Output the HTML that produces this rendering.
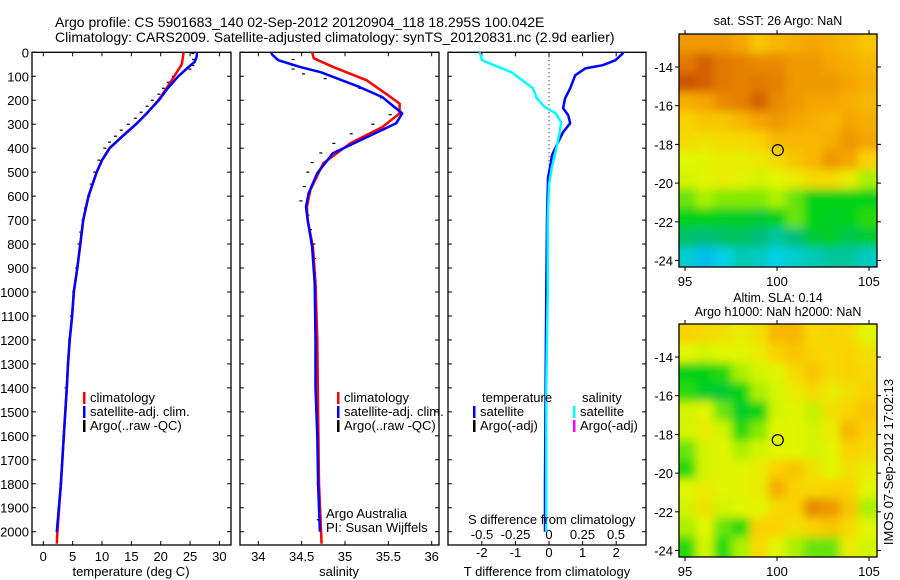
<!DOCTYPE html>
<html><head><meta charset="utf-8"><style>
body{margin:0;background:#fff;}
svg{display:block;font-family:"Liberation Sans",sans-serif;}
text{fill:#000;}
</style></head><body>
<svg id="fig" width="900" height="580" viewBox="0 0 900 580">
<defs>
<filter id="blur" x="0" y="0" width="1" height="1"><feGaussianBlur stdDeviation="4.5"/></filter>
<clipPath id="clip1"><rect x="679" y="34" width="198" height="233"/></clipPath>
<clipPath id="clip2"><rect x="679" y="324" width="198" height="233"/></clipPath>
</defs>
<text x="55" y="27" font-size="14">Argo profile: CS 5901683_140 02-Sep-2012 20120904_118 18.295S 100.042E</text>
<text x="55" y="42" font-size="14">Climatology: CARS2009. Satellite-adjusted climatology: synTS_20120831.nc (2.9d earlier)</text>
<g id="g1"></g>
<g id="g2"></g>
<g id="g3"></g>
<g id="m1"></g>
<g id="m2"></g>
<text transform="translate(893,462) rotate(-90)" font-size="13" text-anchor="middle">IMOS 07-Sep-2012 17:02:13</text>
</svg>
<script>
// ---- data ----
const tClimDepth=[0,50,100,150,200,250,300,350,400,450,500,600,700,800,900,1000,1100,1200,1300,1400,1600,1800,2000,2050];
const tClim=[23.9,23.6,22.3,21,19.6,17.8,15.8,13.5,11.3,10,9.1,7.7,6.8,6.3,5.8,5.2,4.9,4.5,4.2,4.0,3.5,3.0,2.4,2.3];
const tSatDepth=[0,20,40,60,100,150,200,250,300,350,400,450,500,600,700,800,900,1000,1100,1200,1300,1400,1600,1800,2000];
const tSat=[26.2,26.1,25.8,24.8,23,21.2,19.7,17.8,15.8,13.5,11.3,10,9.1,7.7,6.8,6.3,5.8,5.2,4.9,4.5,4.2,4.0,3.5,3.0,2.3];
const tArgoDepth=[5,30,55,70,100,125,150,175,200,225,250,275,300,325,350,375,400,450,500,550,600,650,700,750,800,900,1000,1100,1200,1400,1600,1800,1900,2000];
const tArgo=[25.9,26.0,25.9,25.4,22.6,21.7,20.9,20.1,19.0,18.1,17.1,16.1,14.9,13.7,12.7,11.7,10.9,9.9,9.2,8.6,8.2,7.6,7.2,6.8,6.5,6.1,5.6,5.2,4.9,4.3,3.9,3.4,3.1,2.8];
const sClimDepth=[0,25,62,117,175,214,255,312,380,463,575,645,700,812,963,1200,1500,1800,2050];
const sClim=[34.62,34.64,34.87,35.25,35.48,35.63,35.63,35.43,35.06,34.75,34.6,34.56,34.57,34.63,34.66,34.68,34.69,34.7,34.73];
const sSatDepth=[0,10,33,62,83,145,187,255,296,354,421,504,588,645,700,812,963,1200,1400,1600,1800,2000];
const sSat=[34.15,34.16,34.23,34.49,34.72,35.17,35.43,35.66,35.59,35.25,34.86,34.68,34.58,34.55,34.57,34.62,34.65,34.66,34.66,34.68,34.69,34.71];
const sArgoDepth=[0,30,55,70,90,110,150,190,230,260,300,340,380,420,460,500,560,620,680,740,800,860,920,980,1050,1150,1250,1400,1600,1800,1950];
const sArgo=[34.43,34.43,34.43,34.43,34.55,34.8,35.2,35.45,35.6,35.55,35.35,35.1,34.9,34.75,34.65,34.6,34.56,34.52,34.6,34.63,34.67,34.68,34.68,34.69,34.69,34.69,34.7,34.7,34.71,34.72,34.72];
const dDepth=[0,4,33,54,67,96,150,192,233,262,296,333,375,429,458,525,700,1000,1400,1800,2000];
const tDiff=[2.2,2.2,1.98,1.6,1.08,0.78,0.63,0.48,0.42,0.57,0.63,0.42,0.27,0.09,0.06,-0.03,-0.06,-0.08,-0.1,-0.12,-0.12];
const sDiffDepth=[0,12,33,54,83,125,150,192,229,254,292,333,388,483,554,700,1000,1400,1800,2000];
const sDiff=[-0.52,-0.51,-0.5,-0.41,-0.28,-0.18,-0.12,-0.09,-0.03,0.05,0.09,0.08,0.06,0.02,0,-0.01,-0.01,-0.02,-0.02,-0.02];
const depthTicks=[0,100,200,300,400,500,600,700,800,900,1000,1100,1200,1300,1400,1500,1600,1700,1800,1900,2000];
const tTicks=[0,5,10,15,20,25,30];
const sTicks=[34,34.5,35,35.5,36];
const tdTicks=[-2,-1,0,1,2];
const sdTicks=[-0.5,-0.25,0,0.25,0.5];
const sdTickLabels=["-0.5","-0.25","0","0.25","0.5"];
const mapLonTicks=[95,100,105];
const mapLatTicks=[-14,-16,-18,-20,-22,-24];
const sstGrid=[
[0.85,0.85,0.85,0.82,0.75,0.78,0.8,0.82,0.8,0.78,0.75],
[0.92,0.95,0.92,0.9,0.88,0.88,0.85,0.85,0.82,0.8,0.78],
[0.97,0.95,0.92,0.9,0.92,0.9,0.85,0.85,0.85,0.82,0.8],
[0.8,0.82,0.88,0.9,0.95,0.88,0.85,0.82,0.82,0.8,0.78],
[0.72,0.75,0.75,0.78,0.82,0.85,0.82,0.8,0.78,0.82,0.8],
[0.7,0.68,0.7,0.7,0.72,0.78,0.78,0.78,0.8,0.85,0.82],
[0.62,0.62,0.65,0.64,0.66,0.7,0.75,0.78,0.85,0.82,0.72],
[0.6,0.62,0.65,0.63,0.6,0.62,0.65,0.7,0.7,0.65,0.55],
[0.5,0.55,0.52,0.52,0.52,0.55,0.5,0.42,0.42,0.42,0.42],
[0.42,0.42,0.4,0.4,0.38,0.42,0.5,0.42,0.4,0.42,0.45],
[0.32,0.3,0.32,0.33,0.3,0.25,0.3,0.38,0.4,0.35,0.38],
[0.18,0.12,0.15,0.22,0.2,0.15,0.18,0.22,0.25,0.25,0.2]];
const slaGrid=[
[0.72,0.7,0.68,0.65,0.68,0.78,0.78,0.7,0.72,0.7,0.62],
[0.62,0.6,0.62,0.62,0.65,0.72,0.75,0.72,0.7,0.72,0.68],
[0.42,0.42,0.45,0.55,0.6,0.62,0.7,0.75,0.7,0.72,0.7],
[0.45,0.4,0.38,0.42,0.55,0.6,0.65,0.7,0.65,0.68,0.72],
[0.6,0.62,0.5,0.4,0.42,0.6,0.62,0.58,0.68,0.72,0.75],
[0.6,0.65,0.6,0.45,0.52,0.62,0.62,0.6,0.65,0.78,0.72],
[0.5,0.6,0.62,0.55,0.6,0.62,0.62,0.6,0.62,0.72,0.7],
[0.45,0.6,0.62,0.62,0.65,0.72,0.75,0.68,0.62,0.68,0.65],
[0.62,0.65,0.62,0.62,0.65,0.8,0.72,0.7,0.72,0.72,0.62],
[0.6,0.68,0.6,0.62,0.62,0.7,0.72,0.88,0.85,0.75,0.55],
[0.55,0.62,0.5,0.45,0.72,0.72,0.68,0.72,0.75,0.7,0.62],
[0.45,0.6,0.45,0.55,0.7,0.62,0.55,0.5,0.5,0.65,0.6]];
const profileLon=100.042, profileLat=-18.295;

// ---- helpers ----
const NS="http://www.w3.org/2000/svg";
function mk(tag,attrs,parent){const e=document.createElementNS(NS,tag);for(const k in attrs)e.setAttribute(k,attrs[k]);parent.appendChild(e);return e;}
const TOP=52.3, BOT=545, DSC=0.2397;
const yD=d=>TOP+d*DSC;
const xT=t=>43.3+t*5.87;
const xS=s=>258.3+(s-34)*86.7;
const xTD=v=>549+v*33.6;
const xSD=v=>549+v*134;
function line(g,xs,ds,fx,color,w,name){
  const pts=xs.map((v,i)=>fx(v).toFixed(1)+","+yD(ds[i]).toFixed(1)).join(" ");
  const p=mk("polyline",{points:pts,fill:"none",stroke:color,"stroke-width":w,"stroke-linejoin":"round"},g);
  
  
}
function dashes(g,xs,ds,fx,name){
  const gg=mk("g",{},g);
  
  
  xs.forEach((v,i)=>{const x=fx(v)-2,y=yD(ds[i]);mk("line",{x1:x-2,y1:y,x2:x+1,y2:y,stroke:"#000","stroke-width":1.2},gg);});
}
function frame(g,x0,x1,ticksX,fx,labels,labelY,withDepthLabels){
  const r=mk("rect",{x:x0,y:TOP,width:x1-x0,height:BOT-TOP,fill:"none",stroke:"#000","stroke-width":1.3},g);
  
  
  depthTicks.forEach(d=>{const y=yD(d);
    mk("line",{x1:x0,y1:y,x2:x0+4,y2:y,stroke:"#000"},g);
    mk("line",{x1:x1,y1:y,x2:x1-4,y2:y,stroke:"#000"},g);
    if(withDepthLabels){const t=mk("text",{x:x0-3,y:y+5,"font-size":13,"text-anchor":"end"},g);t.textContent=d;
      
      }
  });
  ticksX.forEach((v,i)=>{const x=fx(v);
    mk("line",{x1:x,y1:BOT,x2:x,y2:BOT-4,stroke:"#000"},g);
    mk("line",{x1:x,y1:TOP,x2:x,y2:TOP+4,stroke:"#000"},g);
    if(labels){const t=mk("text",{x:x,y:labelY,"font-size":13,"text-anchor":"middle"},g);t.textContent=labels[i];
      
      }
  });
}
function txt(g,x,y,s,name,size,anchor){const t=mk("text",{x:x,y:y,"font-size":size||13,"text-anchor":anchor||"start"},g);t.textContent=s;
  
  return t;}
function legendItem(g,x,y,color,label,name){
  const gg=mk("g",{},g);
  
  
  mk("rect",{x:x,y:y-10,width:2.5,height:12,fill:color},gg);
  const t=mk("text",{x:x+7,y:y,"font-size":13},gg);t.textContent=label;
}

// ---- panel 1 ----
const g1=document.getElementById("g1");
frame(g1,32,231,tTicks,xT,tTicks.map(String),561,true);
dashes(g1,tArgo,tArgoDepth,xT,"argo-temperature");
line(g1,tClim,tClimDepth,xT,"#f00",2.5,"climatology-temperature-line");
line(g1,tSat,tSatDepth,xT,"#00f",2.5,"satellite-temperature-line");
txt(g1,131,576,"temperature (deg C)","x-axis-title",13,"middle");
legendItem(g1,83,402,"#f00","climatology","legend-climatology");
legendItem(g1,83,416,"#00f","satellite-adj. clim.","legend-satellite");
legendItem(g1,83,430,"#000","Argo(..raw -QC)","legend-argo");

// ---- panel 2 ----
const g2=document.getElementById("g2");
frame(g2,240,439,sTicks,xS,sTicks.map(String),561,false);
dashes(g2,sArgo,sArgoDepth,xS,"argo-salinity");
line(g2,sClim,sClimDepth,xS,"#f00",2.5,"climatology-salinity-line");
line(g2,sSat,sSatDepth,xS,"#00f",2.5,"satellite-salinity-line");
txt(g2,339,576,"salinity","x-axis-title",13,"middle");
legendItem(g2,337,402,"#f00","climatology","legend-climatology");
legendItem(g2,337,416,"#00f","satellite-adj. clim.","legend-satellite");
legendItem(g2,337,430,"#000","Argo(..raw -QC)","legend-argo");
txt(g2,326,518,"Argo Australia","credit-line-1");
txt(g2,326,532,"PI: Susan Wijffels","credit-line-2");

// ---- panel 3 ----
const g3=document.getElementById("g3");
frame(g3,448,646,tdTicks,xTD,tdTicks.map(String),557,false);
sdTicks.forEach((v,i)=>{const t=txt(g3,xSD(v),539,sdTickLabels[i],"s-tick-label",13,"middle");});
mk("line",{x1:549,y1:TOP,x2:549,y2:yD(500),stroke:"#000","stroke-width":1,"stroke-dasharray":"1 3"},g3);
line(g3,tDiff,dDepth,xTD,"#00f",2.5,"temperature-difference-line");
line(g3,sDiff,sDiffDepth,xSD,"#0ff",2.5,"salinity-difference-line");
txt(g3,468,524,"S difference from climatology","s-axis-title");
txt(g3,547,576,"T difference from climatology","t-axis-title",13,"middle");
txt(g3,482,402,"temperature","legend-temperature-header");
txt(g3,582,402,"salinity","legend-salinity-header");
legendItem(g3,473,416,"#00f","satellite","legend-t-satellite");
legendItem(g3,473,430,"#000","Argo(-adj)","legend-t-argo");
legendItem(g3,573,416,"#0ff","satellite","legend-s-satellite");
legendItem(g3,573,430,"#f0f","Argo(-adj)","legend-s-argo");

// ---- maps ----
const cstops=[[0,[0,100,255]],[0.15,[0,210,230]],[0.3,[0,190,120]],[0.42,[0,210,20]],[0.55,[170,240,0]],[0.62,[225,245,0]],[0.72,[250,210,0]],[0.82,[245,165,0]],[0.92,[225,120,0]],[1,[190,60,0]]];
function cmap(v){for(let i=1;i<cstops.length;i++){if(v<=cstops[i][0]){const a=cstops[i-1],b=cstops[i],f=(v-a[0])/(b[0]-a[0]);
  const c=a[1].map((q,k)=>Math.round(q+(b[1][k]-q)*f));return "rgb("+c+")";}}return "rgb(190,60,0)";}
function drawMap(id,grid,top,lat14y,clipId,titles,titleBase){
  const g=document.getElementById(id);
  const xL=lon=>685+(lon-95)*18.4;
  const yL=lat=>lat14y+(-14-lat)*19.35;
  titles.forEach((s,i)=>txt(g,778,titleBase+i*14,s,"map-title",12.5,"middle"));
  const hg=mk("g",{"clip-path":"url(#"+clipId+")"},g);
  const inner=mk("g",{filter:"url(#blur)"},hg);
  
  
  grid.forEach((row,r)=>row.forEach((v,c)=>{
    const lon0=94.6+c*0.98, lat0=-12.3-r;
    const x=xL(lon0)-(c==0?20:0), y=yL(lat0)-(r==0?20:0);
    const w=xL(lon0+0.98)-xL(lon0)+(c==0?20:0)+(c==row.length-1?20:0)+0.5;
    const h=yL(lat0-1)-yL(lat0)+(r==0?20:0)+(r==grid.length-1?20:0)+0.5;
    mk("rect",{x:x,y:y,width:w,height:h,fill:cmap(v)},inner);
  }));
  const fr=mk("rect",{x:679,y:top,width:198,height:233,fill:"none",stroke:"#000","stroke-width":1.3},g);
  
  
  mapLonTicks.forEach(l=>{const x=xL(l);
    mk("line",{x1:x,y1:top,x2:x,y2:top-4,stroke:"#000"},g);
    mk("line",{x1:x,y1:top+233,x2:x,y2:top+237,stroke:"#000"},g);
    txt(g,x,top+252,String(l),"lon-tick-label",13,"middle");});
  mapLatTicks.forEach(l=>{const y=yL(l);
    mk("line",{x1:679,y1:y,x2:675,y2:y,stroke:"#000"},g);
    mk("line",{x1:877,y1:y,x2:881,y2:y,stroke:"#000"},g);
    txt(g,673,y+5,String(l),"lat-tick-label",13,"end");});
  const c=mk("circle",{cx:xL(profileLon),cy:yL(profileLat),r:5.5,fill:"none",stroke:"#000","stroke-width":1.2},g);
  
  
}
drawMap("m1",sstGrid,34,67,"clip1",["sat. SST: 26 Argo: NaN"],25);
drawMap("m2",slaGrid,324,357,"clip2",["Altim. SLA: 0.14","Argo h1000: NaN h2000: NaN"],302);
</script>
</body></html>
